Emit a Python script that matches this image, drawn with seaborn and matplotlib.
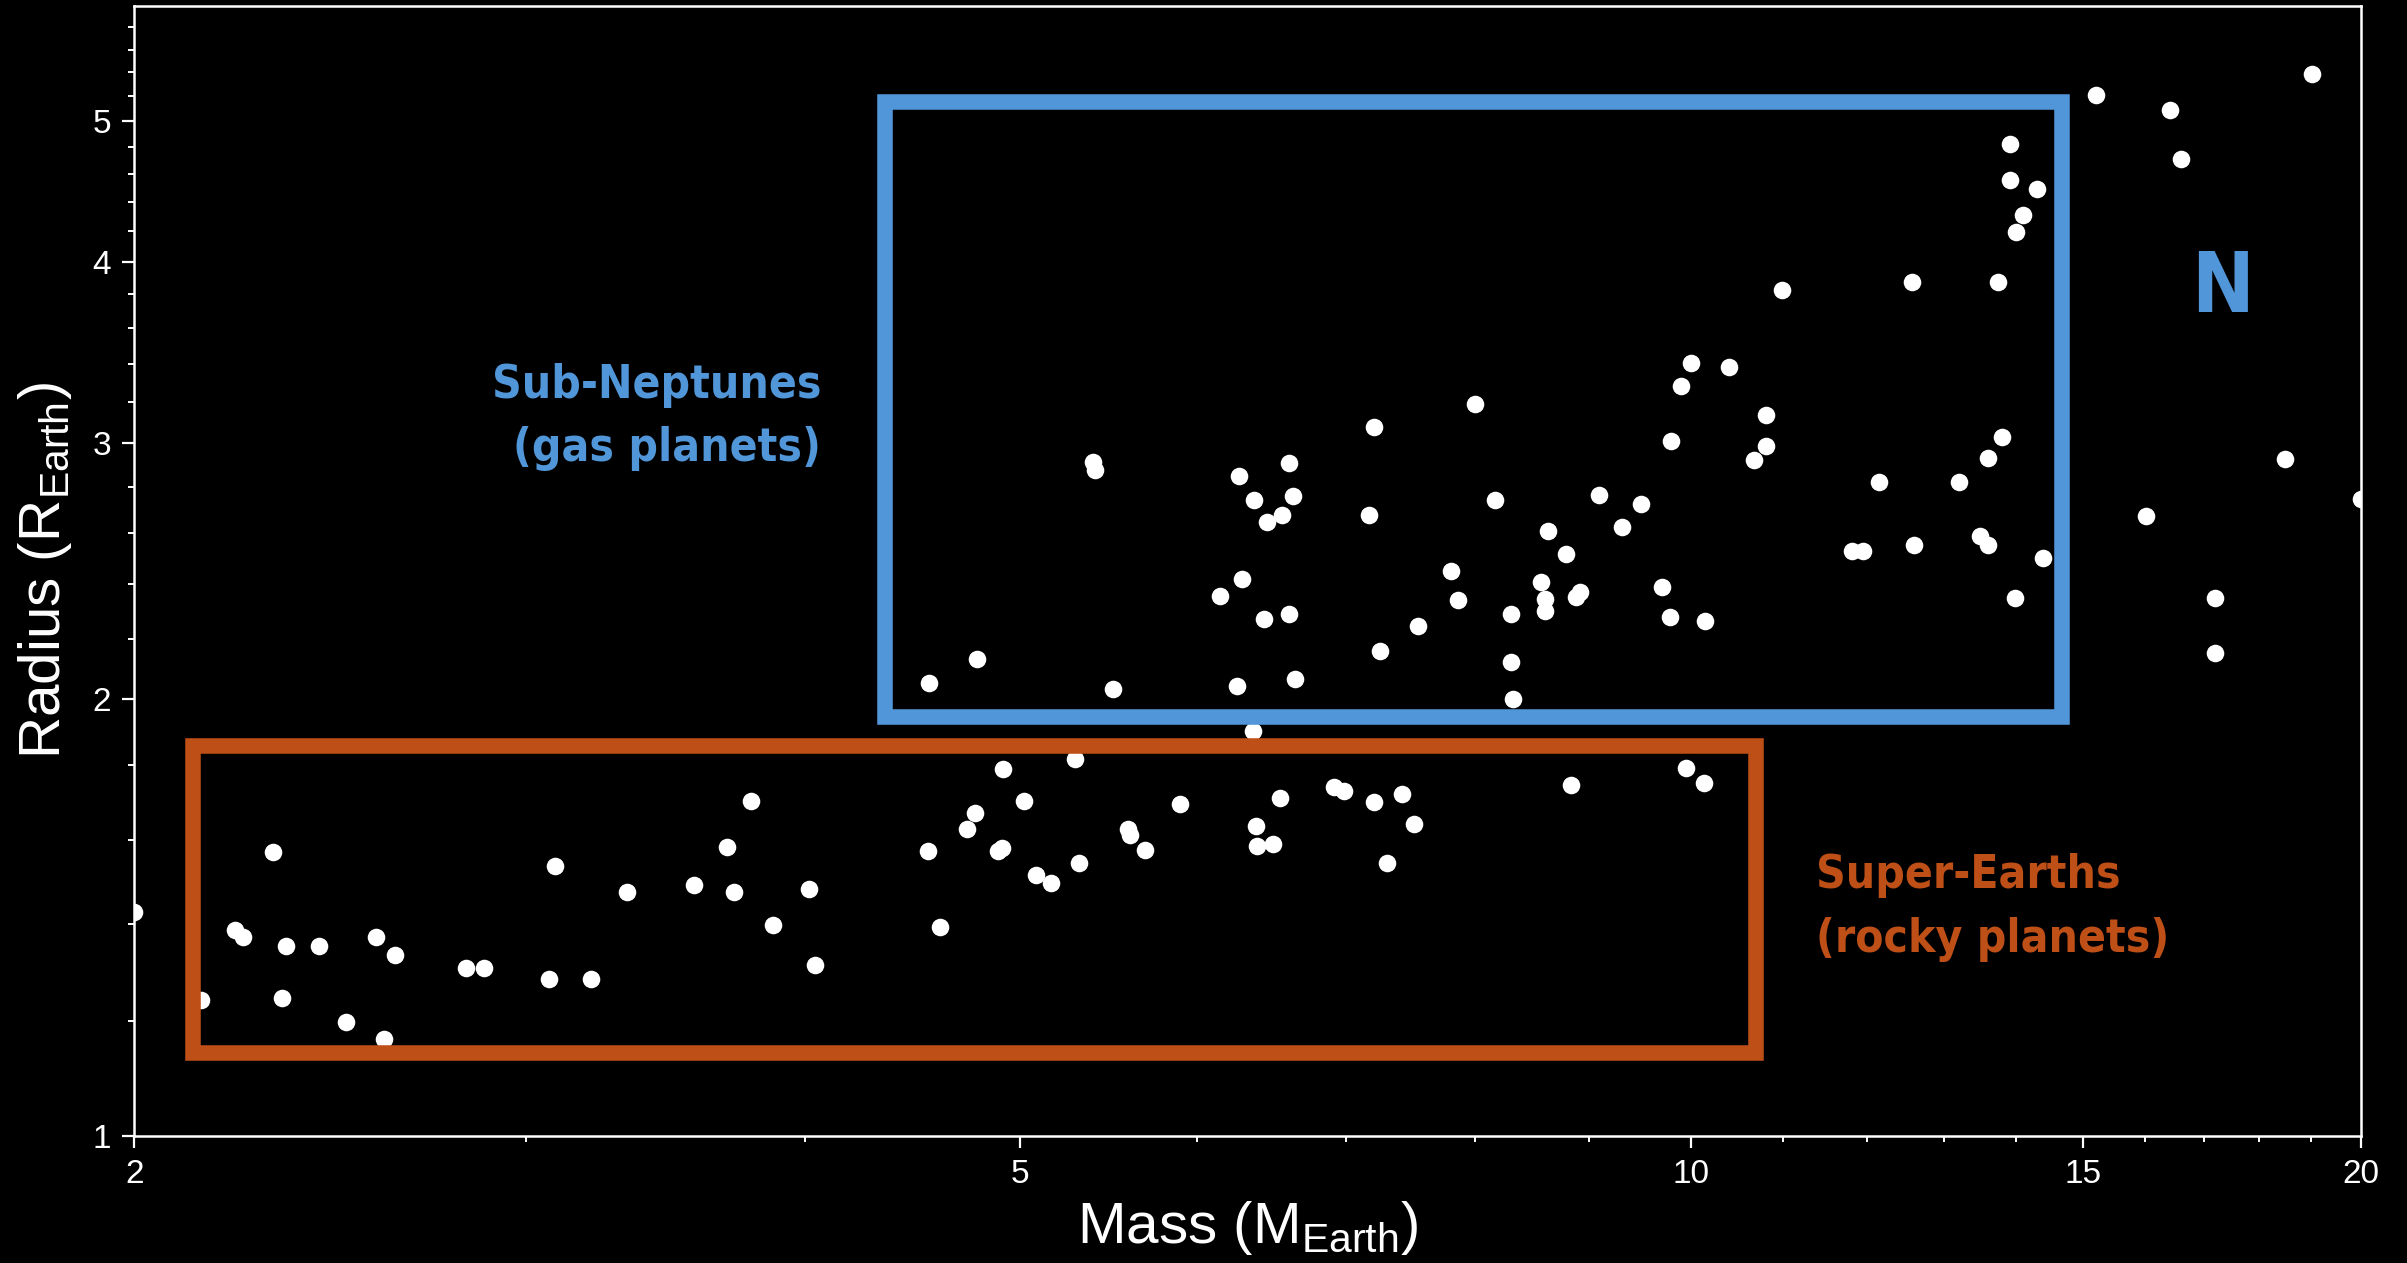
import matplotlib
matplotlib.use("Agg")
import matplotlib.pyplot as plt
import pandas as pd
import seaborn as sns
from matplotlib import font_manager as fm
from matplotlib.patches import Rectangle
from matplotlib.ticker import FixedLocator, FixedFormatter, NullFormatter

# Planet masses (Earth masses) and radii (Earth radii)
mass = [
    2.000, 2.142, 2.219, 2.239, 2.309, 2.330, 2.339, 2.421, 2.489, 2.569,
    2.590, 2.620, 2.819, 2.870, 3.071, 3.090, 3.209, 3.330, 3.569, 3.690,
    3.720, 3.783, 3.871, 4.020, 4.042, 4.543, 4.601, 4.732, 4.769, 4.906,
    4.884, 4.912, 5.020, 5.082, 5.160, 5.292, 5.312, 5.590, 5.600, 5.689,
    5.900, 6.377, 6.389, 6.491, 6.542, 6.915, 6.985, 7.205, 7.306, 7.420,
    7.514, 8.833, 9.958, 10.145, 6.359,
    4.551, 4.783, 5.388, 5.402, 5.501, 6.150, 6.266, 6.289, 6.259, 6.370,
    6.435, 6.450, 6.556, 6.601, 6.630, 6.601, 6.642, 7.174, 7.206, 7.255,
    7.543, 7.805, 7.861, 8.001, 8.171, 8.301, 8.301, 8.325, 8.564, 8.598,
    8.598, 8.632, 8.791, 8.922, 8.883, 9.100, 9.319, 9.502, 9.706, 9.799,
    9.793, 9.904, 10.000, 10.151, 10.404, 10.677, 10.810, 10.810, 10.995, 11.820,
    11.948, 12.151, 12.576, 12.596, 13.203, 13.493, 13.605, 13.605, 13.737, 13.798,
    13.908, 13.908, 14.008, 14.108, 14.309, 13.981, 14.405, 15.208, 16.008, 16.421,
    16.612, 17.194, 17.208, 18.487, 19.020, 20.000,
]
radius = [
    1.427, 1.241, 1.387, 1.372, 1.570, 1.244, 1.351, 1.351, 1.198, 1.372,
    1.166, 1.333, 1.306, 1.306, 1.282, 1.535, 1.282, 1.472, 1.490, 1.581,
    1.472, 1.701, 1.398, 1.479, 1.311, 1.571, 1.392, 1.628, 1.668, 1.579,
    1.572, 1.790, 1.701, 1.512, 1.493, 1.819, 1.541, 1.628, 1.611, 1.575,
    1.694, 1.635, 1.583, 1.589, 1.710, 1.738, 1.729, 1.699, 1.541, 1.721,
    1.640, 1.744, 1.791, 1.750, 1.900,
    2.050, 2.132, 2.911, 2.877, 2.031, 2.354, 2.847, 2.418, 2.042, 2.740,
    2.269, 2.649, 2.676, 2.908, 2.759, 2.289, 2.065, 2.676, 3.077, 2.158,
    2.246, 2.449, 2.341, 3.193, 2.740, 2.289, 2.121, 2.001, 2.408, 2.343,
    2.300, 2.609, 2.518, 2.371, 2.352, 2.763, 2.627, 2.726, 2.390, 3.008,
    2.279, 3.283, 3.407, 2.263, 3.384, 2.921, 3.135, 2.987, 3.824, 2.529,
    2.529, 2.821, 3.876, 2.551, 2.821, 2.588, 2.551, 2.930, 3.876, 3.029,
    4.818, 4.557, 4.194, 4.311, 4.492, 2.348, 2.499, 5.208, 2.671, 5.084,
    4.704, 2.151, 2.348, 2.926, 5.386, 2.745,
]

x_major = [2, 5, 10, 15, 20]
x_labels = ["2", "5", "10", "15", "20"]
y_major = [1, 2, 3, 4, 5]
y_labels = ["1", "2", "3", "4", "5"]

# Regions: (mass_min, mass_max, radius_min, radius_max)
sub_neptune_box = (4.346, 14.68, 1.942, 5.149)
super_earth_box = (2.126, 10.70, 1.141, 1.856)

BLUE = "#5096D8"
ORANGE = "#BE4F16"

sns.set_style("ticks")
plt.rcParams["font.family"] = ["Liberation Sans", "DejaVu Sans"]
plt.rcParams["mathtext.default"] = "regular"


def condensed_bold(size):
    """Pick a bold condensed face if one is installed."""
    picks = []
    for f in fm.fontManager.ttflist:
        w = f.weight
        bold = (isinstance(w, int) and w >= 700) or str(w).lower() in ("bold", "heavy", "black", "extra bold")
        cond = "condensed" in str(f.stretch).lower() or "narrow" in f.name.lower() \
            or "condensed" in f.fname.lower() or "narrow" in f.fname.lower()
        if bold and cond and "oblique" not in f.fname.lower() and "italic" not in f.fname.lower():
            rank = 0 if "dejavu" in f.fname.lower() else (1 if "liberation" in f.fname.lower() else 2)
            picks.append((rank, f.fname))
    if picks:
        picks.sort()
        return fm.FontProperties(fname=picks[0][1], size=size)
    return fm.FontProperties(family="DejaVu Sans", weight="bold", size=size)


fig = plt.figure(figsize=(24.07, 12.63), dpi=100, facecolor="black")
ax = fig.add_axes([0.0558, 0.10055, 0.92501, 0.89469])
ax.set_facecolor("black")

df = pd.DataFrame({"mass": mass, "radius": radius})
sns.scatterplot(data=df, x="mass", y="radius", ax=ax, color="white",
                s=160, linewidth=0, zorder=2, legend=False)

ax.set_xscale("log")
ax.set_yscale("log")
ax.set_xlim(2, 20)
ax.set_ylim(1, 6)

ax.xaxis.set_major_locator(FixedLocator(x_major))
ax.xaxis.set_major_formatter(FixedFormatter(x_labels))
ax.xaxis.set_minor_locator(FixedLocator([m for m in range(3, 20) if m not in x_major]))
ax.xaxis.set_minor_formatter(NullFormatter())
ax.yaxis.set_major_locator(FixedLocator(y_major))
ax.yaxis.set_major_formatter(FixedFormatter(y_labels))
ax.yaxis.set_minor_locator(FixedLocator([round(1 + 0.2 * k, 1) for k in range(1, 25) if k % 5 != 0]))
ax.yaxis.set_minor_formatter(NullFormatter())

ax.tick_params(which="major", length=8.6, width=1.6, color="white",
               labelcolor="white", labelsize=24, pad=8)
ax.tick_params(which="minor", length=4.6, width=1.4, color="white")
for sp in ax.spines.values():
    sp.set_color("white")
    sp.set_linewidth(1.8)
    sp.set_visible(True)

ax.set_xlabel("Mass (M$_{\\mathregular{Earth}}$)", color="white", fontsize=42)
ax.set_ylabel("Radius (R$_{\\mathregular{Earth}}$)", color="white", fontsize=42)
ax.xaxis.set_label_coords(0.5, -0.056)
ax.yaxis.set_label_coords(-0.027, 0.5)

for (x0, x1, y0, y1), col in ((sub_neptune_box, BLUE), (super_earth_box, ORANGE)):
    ax.add_patch(Rectangle((x0, y0), x1 - x0, y1 - y0, fill=False, edgecolor=col,
                           linewidth=11.2, joinstyle="miter", zorder=3))

fp = condensed_bold(33)
fpN = condensed_bold(60)
ax.text(0.3085, 0.6531, "Sub-Neptunes", transform=ax.transAxes, color=BLUE,
        ha="right", va="baseline", fontproperties=fp)
ax.text(0.3085, 0.5977, "(gas planets)", transform=ax.transAxes, color=BLUE,
        ha="right", va="baseline", fontproperties=fp)
ax.text(0.7554, 0.2195, "Super-Earths", transform=ax.transAxes, color=ORANGE,
        ha="left", va="baseline", fontproperties=fp)
ax.text(0.7554, 0.1628, "(rocky planets)", transform=ax.transAxes, color=ORANGE,
        ha="left", va="baseline", fontproperties=fp)
ax.text(0.9379, 0.7293, "N", transform=ax.transAxes, color=BLUE,
        ha="center", va="baseline", fontproperties=fpN)

fig.savefig("out.png", dpi=100, facecolor="black")
